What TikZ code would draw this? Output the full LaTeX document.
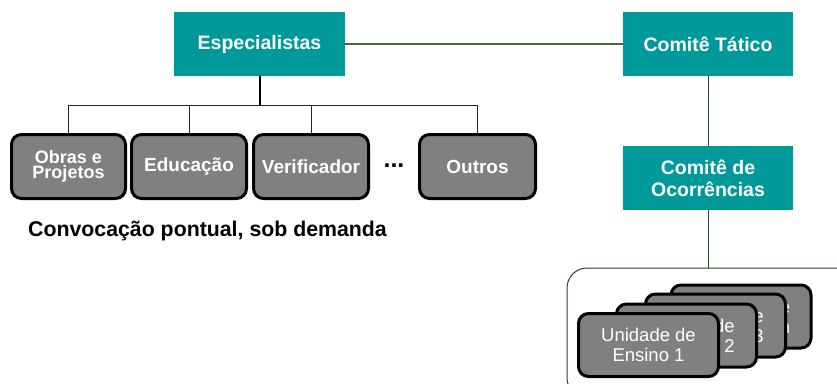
\documentclass[tikz,border=0pt]{standalone}
\usepackage{fontspec}
\setmainfont{Liberation Sans}
\definecolor{teal1}{RGB}{0,153,153}
\definecolor{boxgray}{RGB}{128,128,128}
\definecolor{dkgreen}{RGB}{35,75,35}
\definecolor{lnkgreen}{RGB}{75,105,65}
\tikzset{
  tealbox/.style={fill=teal1, text=white, inner sep=0pt, minimum width=170pt, minimum height=64pt, align=center, font=\fontsize{19.5}{22}\selectfont\bfseries},
  graybox/.style={fill=boxgray, draw=black, line width=3pt, rounded corners=10pt, text=white, inner sep=0pt, minimum height=64pt, align=center, font=\fontsize{19}{21}\selectfont\bfseries},
  cardbox/.style={fill=boxgray, draw=black, line width=3pt, rounded corners=10pt, inner sep=0pt, minimum width=140pt, minimum height=63pt},
  cardtext/.style={text=white, inner sep=0pt, font=\fontsize{18.5}{20}\selectfont},
  busline/.style={draw=black!85, line width=1pt},
  greenline/.style={draw=dkgreen, line width=1pt},
  linkline/.style={draw=lnkgreen, line width=1.2pt}
}
\begin{document}
\begin{tikzpicture}[x=1pt,y=-1pt]
\useasboundingbox (0,0) rectangle (837,383);
\clip (0,0) rectangle (837,383);
% top nodes
\node[tealbox, minimum width=171pt] (esp) at (259.5,44) {Especialistas};
\node[tealbox] (ct) at (708,44) {Comitê Tático};
\node[tealbox] (co) at (708,178) {Comitê de\\Ocorrências};
% specialist boxes
\node[graybox, minimum width=114pt, font=\fontsize{18}{15.5}\selectfont\bfseries] (b1) at (68.5,166.5) {Obras e\\Projetos};
\node[graybox, minimum width=115pt] (b2) at (189,166.5) {Educação};
\node[graybox, minimum width=115pt] (b3) at (311,166.5) {Verificador};
\node[graybox, minimum width=116pt] (b4) at (477.5,166.5) {Outros};
\node[inner sep=0pt, anchor=base, font=\fontsize{25}{25}\selectfont\bfseries] (dots) at (394,167) {...};
\node[inner sep=0pt, anchor=base, font=\fontsize{21.3}{24}\selectfont\bfseries] (conv) at (207.5,236) {Convocação pontual, sob demanda};
% connectors
\coordinate (bus) at (259.5,105);
\draw[line width=2pt, black] (esp.south) -- (bus);
\draw[busline] (b1.north) -- (b1.north |- bus) -- (b4.north |- bus) -- (b4.north);
\draw[busline] (b2.north) -- (b2.north |- bus);
\draw[busline] (b3.north) -- (b3.north |- bus);
\draw[linkline] (esp.east) -- (ct.west);
\draw[greenline] (ct.south) -- (co.north);
% container
\coordinate (ctop) at (708,268);
\draw[greenline] (co.south) -- (ctop);
\draw[dkgreen, line width=1pt, rounded corners=20pt] (567,268) rectangle (880,398);
% cards (back to front)
\node[cardbox] (c4) at (741,316.5) {};
\node[cardtext, align=right, anchor=east] (t4) at ([xshift=-22pt]c4.east) {Unidade de\\Ensino n};
\node[cardbox] (c3) at (715.5,325.5) {};
\node[cardtext, align=right, anchor=east] (t3) at ([xshift=-23pt]c3.east) {Unidade de\\Ensino 3};
\node[cardbox] (c2) at (686.5,335.5) {};
\node[cardtext, align=right, anchor=east] (t2) at ([xshift=-23pt]c2.east) {Unidade de\\Ensino 2};
\node[cardbox] (c1) at (648.5,345) {};
\node[cardtext, align=center] (t1) at (c1.center) {Unidade de\\Ensino 1};
\end{tikzpicture}
\end{document}
